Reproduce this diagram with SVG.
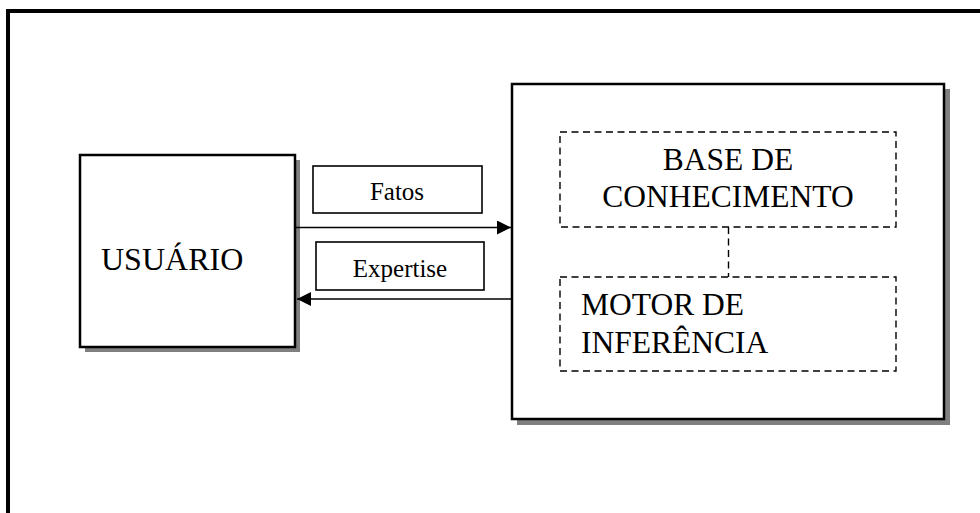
<svg xmlns="http://www.w3.org/2000/svg" width="980" height="513" viewBox="0 0 980 513">
  <style>
    .frame { fill: none; stroke: #000; stroke-width: 4; }
    .shadow { fill: #808080; stroke: none; }
    .box { fill: #fff; stroke: #000; stroke-width: 2.5; }
    .label-box { fill: #fff; stroke: #000; stroke-width: 1.6; }
    .dashed { fill: none; stroke: #000; stroke-width: 1.4; stroke-dasharray: 7 4.5; }
    .flow { stroke: #000; stroke-width: 1.3; fill: none; }
    text { fill: #000; }
    .big { font-size: 31.5px; }
    .small { font-size: 25px; }
  </style>
  <defs>
    <marker id="arrow" viewBox="0 0 14 14" refX="14" refY="7" markerWidth="14" markerHeight="14" markerUnits="userSpaceOnUse" orient="auto">
      <path d="M0,0 L14,7 L0,14 Z" fill="#000"/>
    </marker>
  </defs>

  <rect width="980" height="513" fill="#fff"/>

  <!-- page frame, running off the right and bottom edges -->
  <path class="frame" d="M8,520 V11 H990"/>

  <g font-family="'Liberation Serif', 'DejaVu Serif', 'Times New Roman', serif">
    <g id="usuario">
      <rect class="shadow" x="85" y="160" width="215" height="192"/>
      <rect class="box" x="80" y="155" width="215" height="192"/>
      <text class="big" x="101" y="270" style="font-size:32px">USUÁRIO</text>
    </g>

    <g id="sistema">
      <rect class="shadow" x="517" y="89" width="433" height="336"/>
      <rect class="box" x="512" y="84" width="432" height="335"/>
    </g>

    <g id="base-conhecimento">
      <rect class="dashed" x="560" y="132" width="336" height="95"/>
      <text class="big" x="728" y="169.5" text-anchor="middle">BASE DE</text>
      <text class="big" x="728" y="206.5" text-anchor="middle">CONHECIMENTO</text>
    </g>

    <g id="motor-inferencia">
      <rect class="dashed" x="560" y="277" width="336" height="94"/>
      <text class="big" x="581" y="315">MOTOR DE</text>
      <text class="big" x="581" y="353">INFERÊNCIA</text>
    </g>

    <g id="fatos">
      <rect class="label-box" x="313" y="166" width="169" height="47"/>
      <text class="small" x="397" y="200" text-anchor="middle">Fatos</text>
    </g>

    <g id="expertise">
      <rect class="label-box" x="316" y="242" width="168" height="48"/>
      <text class="small" x="400" y="276.5" text-anchor="middle">Expertise</text>
    </g>
  </g>

  <g id="connectors">
    <line class="flow" x1="296" y1="227.5" x2="511" y2="227.5" marker-end="url(#arrow)"/>
    <line class="flow" x1="511" y1="299" x2="297" y2="299" marker-end="url(#arrow)"/>
    <line class="dashed" x1="728.5" y1="227" x2="728.5" y2="277"/>
  </g>
</svg>
